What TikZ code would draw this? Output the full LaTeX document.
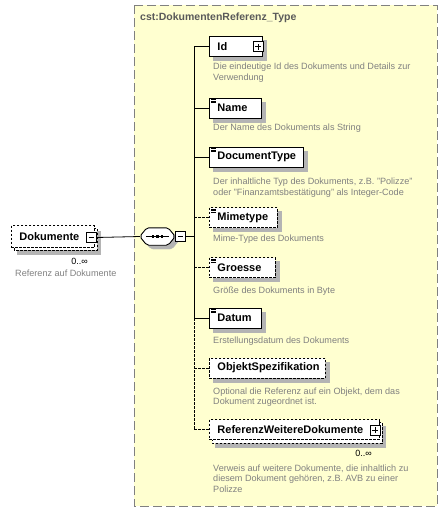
\documentclass[tikz,border=0pt]{standalone}
\usepackage{fontspec}
\setmainfont{Liberation Sans}
\definecolor{bgyellow}{RGB}{255,255,208}
\definecolor{framegray}{RGB}{128,128,128}
\definecolor{descgray}{RGB}{128,128,128}
\definecolor{titlegray}{RGB}{90,90,90}
\definecolor{shadowc}{RGB}{180,180,180}
\begin{document}
\begin{tikzpicture}[x=1pt,y=-1pt,
  every node/.style={inner sep=0pt},
  elem/.style={draw=black, line width=0.9pt, fill=white, minimum height=20pt, inner xsep=8pt,
     align=left, font=\fontsize{11}{12}\selectfont\bfseries, anchor=west},
  optelem/.style={elem, dash pattern=on 2.5pt off 1.5pt},
  desc/.style={anchor=north west, align=left, text=descgray, font=\fontsize{9.1}{10.6}\selectfont},
  pmbox/.style={draw=black, line width=0.8pt, fill=white, minimum width=10pt, minimum height=10pt},
  branch/.style={draw=black, line width=0.8pt},
  optbranch/.style={branch, dash pattern=on 2.5pt off 1.5pt},
  iconlines/.style={draw=black, line width=0.55pt},
  shadowpath/.style={fill=shadowc, draw=shadowc, line width=0.4pt}
]
\useasboundingbox (0,0) rectangle (447,512);

% complex type frame
\draw[draw=framegray, fill=bgyellow, line width=0.9pt, dash pattern=on 9pt off 4pt] (134,5) rectangle (437,506);

% ---------- shadows ----------
\path[shadowpath] (17,231) rectangle (100,254);
\path[shadowpath] (213,40.5) rectangle (266,60.5);
\path[shadowpath] (213,102) rectangle (265,122);
\path[shadowpath] (213,151) rectangle (307,171);
\path[shadowpath] (213,211.5) rectangle (281,231.5);
\path[shadowpath] (213,261.5) rectangle (279,281.5);
\path[shadowpath] (213,312) rectangle (265,332);
\path[shadowpath] (213,362) rectangle (329,382);
\path[shadowpath] (215,426) rectangle (385,447);
\path[shadowpath, rounded corners=2pt] (144,240.5) -- (151,232) -- (172,232) -- (179,240.5) -- (172,249) -- (151,249) -- cycle;

\node[anchor=west, text=titlegray, font=\fontsize{10.5}{12}\selectfont\bfseries] (title) at (140,18) {cst:DokumentenReferenz\_Type};

% ---------- Dokumente (root, repeating, optional) ----------
\draw[fill=white, line width=0.9pt, dash pattern=on 2.5pt off 1.5pt] (14,228) rectangle (97,250);
\node[optelem, minimum width=83pt, minimum height=22pt, text width=67pt] (doc) at (11,236.5) {Dokumente};
\node[pmbox] (docm) at (91,237.5) {};
\draw[line width=0.8pt] ([xshift=-2.5pt]docm.center) -- ([xshift=2.5pt]docm.center);
\node[anchor=east, font=\fontsize{9}{10}\selectfont] (docmult) at (88,261.5) {0..∞};
\node[desc, anchor=west] (docdesc) at (15,273) {Referenz auf Dokumente};

% ---------- sequence compositor ----------
\node[minimum width=35pt, minimum height=17pt] (seq) at (157.5,236.5) {};
\draw[fill=white, line width=0.9pt, rounded corners=2pt] (seq.west) -- ([xshift=7pt]seq.north west) -- ([xshift=-7pt]seq.north east) -- (seq.east) -- ([xshift=-7pt]seq.south east) -- ([xshift=7pt]seq.south west) -- cycle;
\draw[line width=0.8pt] ([xshift=6pt]seq.west) -- ([xshift=-6pt]seq.east);
\foreach \dx in {-4.5,0,4.5} \fill ([xshift=\dx pt]seq.center) ++(-1.4,-1.2) rectangle ++(2.8,2.4);
\node[pmbox, anchor=west] (seqm) at (seq.east) {};
\draw[line width=0.8pt] ([xshift=-2.5pt]seqm.center) -- ([xshift=2.5pt]seqm.center);

\draw[branch] (docm.east) -- (seq.west);

% spine
\coordinate (spineTop) at (194,46.5);
\coordinate (spineSolidEnd) at (194,318);
\coordinate (spineBottom) at (194,429.5);
\coordinate (spineSeq) at (194,236.5);
\draw[branch] (seqm.east) -- (spineSeq);
\draw[branch] (spineTop) -- (spineSolidEnd);
\draw[optbranch] (spineSolidEnd) -- (spineBottom);

% ---------- children ----------
\node[elem, minimum width=53pt, text width=37pt] (id) at (209,46.5) {Id};
\node[pmbox] (idp) at (258,46.5) {};
\draw[line width=0.8pt] ([xshift=-3pt]idp.center) -- ([xshift=3pt]idp.center) ([yshift=-3pt]idp.center) -- ([yshift=3pt]idp.center);
\node[desc] (iddesc) at (213,63) {Die eindeutige Id des Dokuments und Details zur\\Verwendung};

\node[elem, minimum width=52pt, text width=36pt] (name) at (209,108) {Name};
\node[desc] (namedesc) at (213,123.5) {Der Name des Dokuments als String};

\node[elem, minimum width=94pt, text width=78pt] (dtype) at (209,157) {DocumentType};
\node[desc] (dtypedesc) at (213,178) {Der inhaltliche Typ des Dokuments, z.B. "Polizze"\\oder "Finanzamtsbestätigung" als Integer-Code};

\node[optelem, minimum width=68pt, text width=52pt] (mime) at (209,217.5) {Mimetype};
\node[desc] (mimedesc) at (213,234.5) {Mime-Type des Dokuments};

\node[optelem, minimum width=66pt, text width=50pt] (groesse) at (209,267.5) {Groesse};
\node[desc] (groessedesc) at (213,286.5) {Größe des Dokuments in Byte};

\node[elem, minimum width=52pt, text width=36pt] (datum) at (209,318) {Datum};
\node[desc] (datumdesc) at (213,336.5) {Erstellungsdatum des Dokuments};

\node[optelem, minimum width=116pt, text width=100pt] (objekt) at (209,368) {ObjektSpezifikation};
\node[desc] (objektdesc) at (213,387.5) {Optional die Referenz auf ein Objekt, dem das\\Dokument zugeordnet ist.};

\draw[fill=white, line width=0.9pt, dash pattern=on 2.5pt off 1.5pt] (212,422.5) rectangle (382,443);
\node[optelem, minimum width=170pt, text width=154pt] (refw) at (209,429.5) {ReferenzWeitereDokumente};
\node[pmbox] (refwp) at (375,430) {};
\draw[line width=0.8pt] ([xshift=-3pt]refwp.center) -- ([xshift=3pt]refwp.center) ([yshift=-3pt]refwp.center) -- ([yshift=3pt]refwp.center);
\node[anchor=east, font=\fontsize{9}{10}\selectfont] (refwmult) at (372,453) {0..∞};
\node[desc] (refwdesc) at (213,464.5) {Verweis auf weitere Dokumente, die inhaltlich zu\\diesem Dokument gehören, z.B. AVB zu einer\\Polizze};

\foreach \n in {name,dtype,mime,groesse,datum}{
  \draw[iconlines] ([xshift=2pt,yshift=-1.8pt]\n.north west) -- ++(5,0);
  \draw[iconlines] ([xshift=2pt,yshift=-3.4pt]\n.north west) -- ++(5,0);
  \draw[iconlines] ([xshift=2pt,yshift=-5pt]\n.north west) -- ++(5,0);
}

\draw[branch] (spineTop) -- (id.west);
\draw[branch] (194,108) -- (name.west);
\draw[branch] (194,157) -- (dtype.west);
\draw[optbranch] (194,217.5) -- (mime.west);
\draw[optbranch] (194,267.5) -- (groesse.west);
\draw[branch] (spineSolidEnd) -- (datum.west);
\draw[optbranch] (194,368) -- (objekt.west);
\draw[optbranch] (spineBottom) -- (refw.west);
\end{tikzpicture}
\end{document}
